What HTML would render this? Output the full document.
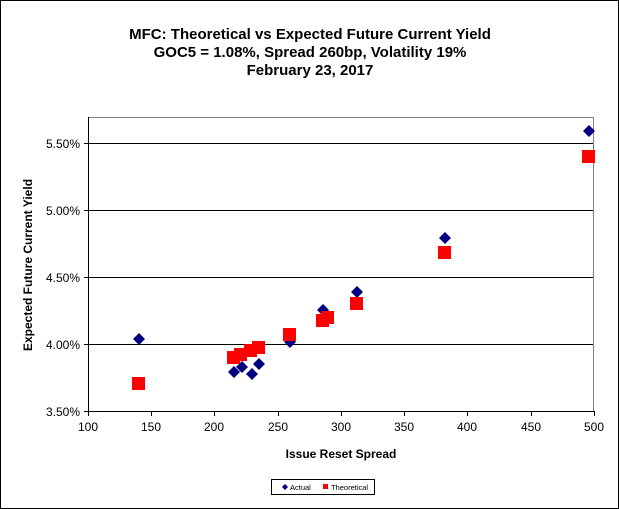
<html><body style="margin:0;background:#fff">
<svg width="619" height="509" xmlns="http://www.w3.org/2000/svg" font-family="Liberation Sans, Arial, sans-serif">
<rect x="0.5" y="0.5" width="618" height="508" fill="#fff" stroke="#000"/>
<g font-weight="bold" font-size="15" text-anchor="middle">
<text x="310" y="39">MFC: Theoretical vs Expected Future Current Yield</text>
<text x="310" y="57">GOC5 = 1.08%, Spread 260bp, Volatility 19%</text>
<text x="310" y="75">February 23, 2017</text>
</g>
<g stroke="#000" stroke-width="1">
<line x1="88" y1="143.5" x2="594" y2="143.5"/>
<line x1="88" y1="210.5" x2="594" y2="210.5"/>
<line x1="88" y1="277.5" x2="594" y2="277.5"/>
<line x1="88" y1="344.5" x2="594" y2="344.5"/>
<rect x="88.5" y="117.5" width="505" height="294" fill="none" stroke="#808080"/>
<line x1="88.5" y1="117" x2="88.5" y2="411"/>
<line x1="88" y1="411.5" x2="594" y2="411.5"/>
</g>
<g stroke="#000">
<line x1="84" y1="143.5" x2="88" y2="143.5"/><line x1="84" y1="210.5" x2="88" y2="210.5"/><line x1="84" y1="277.5" x2="88" y2="277.5"/><line x1="84" y1="344.5" x2="88" y2="344.5"/><line x1="84" y1="411.5" x2="88" y2="411.5"/>
<line x1="88.5" y1="411" x2="88.5" y2="416"/><line x1="151.5" y1="411" x2="151.5" y2="416"/><line x1="214.5" y1="411" x2="214.5" y2="416"/><line x1="278.5" y1="411" x2="278.5" y2="416"/><line x1="341.5" y1="411" x2="341.5" y2="416"/><line x1="404.5" y1="411" x2="404.5" y2="416"/><line x1="467.5" y1="411" x2="467.5" y2="416"/><line x1="531.5" y1="411" x2="531.5" y2="416"/><line x1="594.5" y1="411" x2="594.5" y2="416"/>
</g>
<g font-size="12" text-anchor="end">
<text x="80" y="148">5.50%</text><text x="80" y="215">5.00%</text><text x="80" y="282">4.50%</text><text x="80" y="349">4.00%</text><text x="80" y="416">3.50%</text>
</g>
<g font-size="12" text-anchor="middle">
<text x="88" y="431">100</text><text x="151" y="431">150</text><text x="214" y="431">200</text><text x="278" y="431">250</text><text x="341" y="431">300</text><text x="404" y="431">350</text><text x="467" y="431">400</text><text x="531" y="431">450</text><text x="594" y="431">500</text>
</g>
<text x="341" y="458" font-size="12" font-weight="bold" text-anchor="middle">Issue Reset Spread</text>
<text transform="translate(32,265) rotate(-90)" font-size="12" font-weight="bold" text-anchor="middle">Expected Future Current Yield</text>
<g fill="#000080">
<path d="M139 333l6 6-6 6-6-6z"/><path d="M234 366l6 6-6 6-6-6z"/><path d="M242 361l6 6-6 6-6-6z"/><path d="M252 368l6 6-6 6-6-6z"/><path d="M259 358l6 6-6 6-6-6z"/><path d="M290 336l6 6-6 6-6-6z"/><path d="M323 304l6 6-6 6-6-6z"/><path d="M357 286l6 6-6 6-6-6z"/><path d="M445 232l6 6-6 6-6-6z"/><path d="M589 125l6 6-6 6-6-6z"/>
</g>
<g fill="#ff0000">
<rect x="132" y="377" width="13" height="13"/><rect x="227" y="351" width="13" height="13"/><rect x="234" y="348" width="13" height="13"/><rect x="244" y="344" width="13" height="13"/><rect x="252" y="341" width="13" height="13"/><rect x="283" y="328" width="13" height="13"/><rect x="316" y="314" width="13" height="13"/><rect x="321" y="311" width="13" height="13"/><rect x="350" y="297" width="13" height="13"/><rect x="438" y="246" width="13" height="13"/><rect x="582" y="150" width="13" height="13"/>
</g>
<rect x="271.5" y="479.5" width="103" height="15" fill="#fff" stroke="#000"/>
<path d="M285 484l3 3-3 3-3-3z" fill="#000080"/>
<text x="290" y="490" font-size="7.5">Actual</text>
<rect x="323" y="484" width="5" height="5" fill="#ff0000"/>
<text x="331" y="490" font-size="7.5">Theoretical</text>
</svg>
</body></html>
